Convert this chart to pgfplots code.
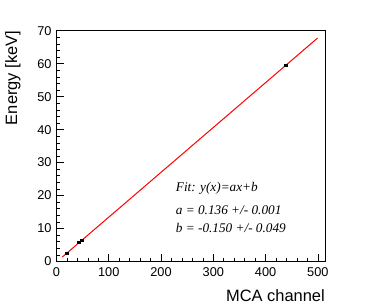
\documentclass[border=0pt]{standalone}
\usepackage{pgfplots}
\pgfplotsset{compat=1.18}
\usepackage{fontspec}
\setmainfont{Liberation Sans}
\newfontfamily\timesfont{Liberation Serif}
\begin{document}
\begin{tikzpicture}
\useasboundingbox (-56.5bp,-46.5bp) rectangle (317.5bp,261.5bp);
\begin{axis}[
  scale only axis,
  width=268.5bp, height=230.8bp,
  xmin=0, xmax=513.7, ymin=0, ymax=70,
  xtick={0,100,...,500}, ytick={0,10,...,70},
  minor x tick num=4, minor y tick num=4,
  tick align=inside,
  xtick pos=bottom, ytick pos=left,
  major tick length=8bp, minor tick length=4bp,
  axis line style={line width=0.8bp, black},
  every tick/.style={black, line width=0.6bp},
  /pgf/number format/assume math mode=true,
  tick label style={font=\fontsize{12.8}{15}\selectfont},
  xticklabel style={yshift=-2.5bp},
  yticklabel style={xshift=-1.5bp},
  xlabel={MCA channel}, ylabel={Energy [keV]},
  label style={font=\fontsize{16.5}{19}\selectfont},
  xlabel style={at={(axis description cs:1,-0.1742)}, anchor=base east, inner sep=0pt},
  ylabel style={at={(axis description cs:-0.1333,1)}, anchor=south east, inner sep=0pt, rotate=0},
  clip=false,
]
\addplot[red, line width=1bp] coordinates {(11.1,1.36) (499.4,67.76)};
\addplot[only marks, mark=square*, mark size=1.3bp, black] coordinates {
  (19.5,2.5) (42.5,5.9) (48.5,6.49) (438.5,59.54)};
\node[anchor=base west, inner sep=0pt, font=\timesfont\itshape\fontsize{13.3}{15}\selectfont] at (axis description cs:0.444,0.3024) {Fit: y(x)=ax+b};
\node[anchor=base west, inner sep=0pt, font=\timesfont\itshape\fontsize{13.3}{15}\selectfont] at (axis description cs:0.444,0.2045) {a = 0.136 +/- 0.001};
\node[anchor=base west, inner sep=0pt, font=\timesfont\itshape\fontsize{13.3}{15}\selectfont] at (axis description cs:0.444,0.1248) {b = -0.150 +/- 0.049};
\end{axis}
\end{tikzpicture}
\end{document}
